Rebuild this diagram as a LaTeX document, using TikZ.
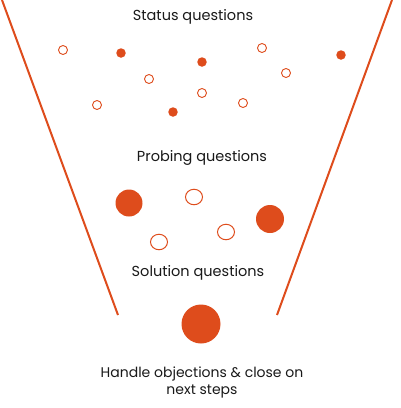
\documentclass[tikz,border=0pt]{standalone}
\usepackage{fontspec}
\usetikzlibrary{shapes.geometric}
\setmainfont{Poppins}
\definecolor{funnel}{RGB}{222,76,28}
\begin{document}
\begin{tikzpicture}[x=1pt,y=-1pt,
  lbl/.style={inner sep=0pt,font=\fontsize{14.5}{18}\selectfont,text=black!90,align=center},
  opn/.style={circle,draw=funnel,line width=0.9pt,minimum size=9pt,inner sep=0pt},
  fil/.style={circle,fill=funnel,minimum size=9.5pt,inner sep=0pt},
  opnb/.style={ellipse,draw=funnel,line width=1pt,minimum width=17pt,minimum height=15.5pt,inner sep=0pt},
  wall/.style={draw=funnel,line width=2pt}]
\useasboundingbox (0,0) rectangle (400,408);
\draw[wall] (2,0) -- (118,315);
\draw[wall] (392,0) -- (277,315);
\node[lbl] (status) at (193,17) {Status questions};
\node[opn] (s1) at (63,50) {};
\node[opn] (s2) at (149,79) {};
\node[opn] (s3) at (97,105) {};
\node[opn] (s4) at (202,93) {};
\node[opn] (s5) at (243,103) {};
\node[opn] (s6) at (262,48) {};
\node[opn] (s7) at (286,73) {};
\node[fil] (f1) at (121,53) {};
\node[fil] (f2) at (202,62) {};
\node[fil] (f3) at (173,112) {};
\node[fil] (f4) at (341,55) {};
\node[lbl] (probing) at (202,158) {Probing questions};
\node[fil,minimum size=27pt] (p1) at (129,203) {};
\node[fil,minimum size=28pt] (p2) at (270,219) {};
\node[opnb] (p3) at (194,197) {};
\node[opnb] (p4) at (159,242) {};
\node[opnb] (p5) at (226,232) {};
\node[lbl] (solution) at (198,273) {Solution questions};
\node[fil,minimum size=39pt] (big) at (201,324) {};
\node[lbl,font=\fontsize{14}{17}\selectfont] (close) at (202,382) {Handle objections \& close on\\next steps};
\end{tikzpicture}
\end{document}
